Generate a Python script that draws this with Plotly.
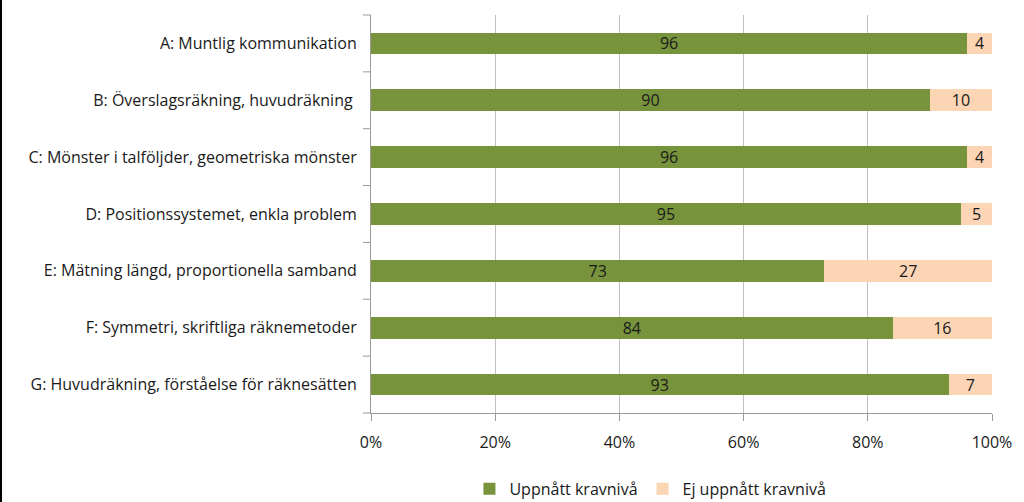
import plotly.graph_objects as go

categories = [
    "A: Muntlig kommunikation",
    "B: Överslagsräkning, huvudräkning ",
    "C: Mönster i talföljder, geometriska mönster",
    "D: Positionssystemet, enkla problem",
    "E: Mätning längd, proportionella samband",
    "F: Symmetri, skriftliga räknemetoder",
    "G: Huvudräkning, förståelse för räknesätten",
]
achieved = [96, 90, 96, 95, 73, 84, 93]
not_achieved = [4, 10, 4, 5, 27, 16, 7]
series_names = ["Uppnått kravnivå", "Ej uppnått kravnivå"]
tick_vals = [0, 20, 40, 60, 80, 100]
tick_text = ["0%", "20%", "40%", "60%", "80%", "100%"]

FONT = "Open Sans"
FS = 16
W, H = 1024, 502
ML, MR, MT, MB = 371, 32, 15, 89

fig = go.Figure()
fig.add_trace(go.Bar(
    y=categories, x=achieved, orientation="h", name=series_names[0],
    marker=dict(color="#77933C", line=dict(width=0)),
    text=[str(v) for v in achieved], textposition="inside", insidetextanchor="middle",
    textangle=0, textfont=dict(family=FONT, size=FS, color="#1a1a1a"), constraintext="none",
))
fig.add_trace(go.Bar(
    y=categories, x=not_achieved, orientation="h", name=series_names[1],
    marker=dict(color="#FCD5B5", line=dict(width=0)),
    text=[str(v) for v in not_achieved], textposition="inside", insidetextanchor="middle",
    textangle=0, textfont=dict(family=FONT, size=FS, color="#1a1a1a"), constraintext="none",
))

pw = W - ML - MR
ph = H - MT - MB
fig.update_layout(
    width=W, height=H, barmode="stack", bargap=0.62,
    margin=dict(l=ML, r=MR, t=MT, b=MB, autoexpand=False),
    paper_bgcolor="white", plot_bgcolor="white",
    font=dict(family=FONT, size=FS, color="#1a1a1a"),
    uniformtext=dict(mode=False),
    xaxis=dict(range=[0, 100], tickvals=tick_vals, ticktext=tick_text,
               showgrid=True, gridcolor="#BFBFBF", gridwidth=1,
               showline=True, linecolor="#9a9a9a", linewidth=1,
               ticks="outside", ticklen=7, tickcolor="#9a9a9a",
               ticklabelstandoff=8,
               zeroline=False, tickfont=dict(family=FONT, size=FS), fixedrange=True,
               automargin=False),
    yaxis=dict(autorange="reversed", showline=True, linecolor="#9a9a9a", linewidth=1,
               showgrid=False, ticks="", ticklabelstandoff=10, automargin=False,
               tickfont=dict(family=FONT, size=FS)),
    legend=dict(orientation="h", x=0.45, xanchor="center", y=-0.148, yanchor="top",
                font=dict(family=FONT, size=FS), traceorder="normal",
                itemwidth=30),
    showlegend=True,
)
# category separators (tick marks between categories)
for i in range(len(categories) + 1):
    fig.add_shape(type="line", xref="paper", yref="paper",
                  x0=-8 / pw, x1=0, y0=i / len(categories), y1=i / len(categories),
                  line=dict(color="#9a9a9a", width=1))
# left border of chart area
fig.add_shape(type="line", xref="paper", yref="paper",
              x0=-(ML - 1) / pw, x1=-(ML - 1) / pw,
              y0=-MB / ph, y1=1 + MT / ph,
              line=dict(color="black", width=2))

fig.write_html("out.html", config={"displayModeBar": False},
               post_script="document.body.style.margin='0px';")
